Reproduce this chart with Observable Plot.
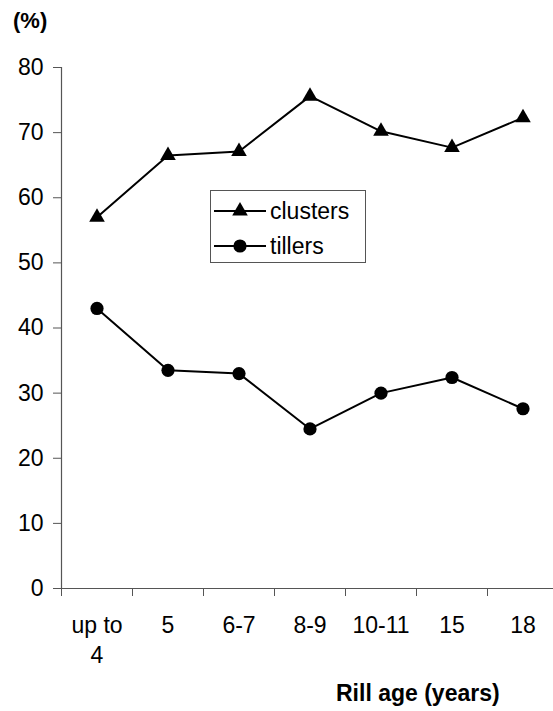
<!DOCTYPE html>
<html>
<head>
<meta charset="utf-8">
<script src="https://cdn.jsdelivr.net/npm/d3@7"></script>
<script src="https://cdn.jsdelivr.net/npm/@observablehq/plot@0.6"></script>
<style>
  html, body { margin: 0; padding: 0; background: #fff; }
  #wrap { position: relative; width: 553px; height: 711px; overflow: hidden; font-family: "Liberation Sans", Arial, Helvetica, sans-serif; color: #000; }
  #wrap > svg { position: absolute; left: 0; top: 0; }
  .lbl { position: absolute; font-weight: bold; line-height: 1; white-space: nowrap; }
  #legend { position: absolute; left: 210px; top: 190px; width: 154px; height: 71px; border: 1px solid #555; background: #fff; }
  .row { position: absolute; left: 0; height: 30px; display: flex; align-items: center; font-size: 23px; }
  .row svg { display: block; margin-left: 3px; margin-right: 4px; }
</style>
</head>
<body>
<div id="wrap"></div>
<script>
const categories = ["up to\n4", "5", "6-7", "8-9", "10-11", "15", "18"];
const clusters = [57.0, 66.5, 67.1, 75.6, 70.2, 67.7, 72.3];
const tillers = [43.0, 33.5, 33.0, 24.5, 30.0, 32.4, 27.6];
const yTicks = [0, 10, 20, 30, 40, 50, 60, 70, 80];

const rows = [
  ...clusters.map((v, i) => ({i, value: v, series: "clusters"})),
  ...tillers.map((v, i) => ({i, value: v, series: "tillers"}))
];
const idx = categories.map((_, i) => i);
const bounds = categories.map((_, i) => i - 0.5).concat([categories.length - 0.5]);

const chart = Plot.plot({
  width: 553,
  height: 711,
  marginLeft: 61,
  marginTop: 67,
  marginBottom: 123,
  marginRight: -5,
  style: {fontFamily: '"Liberation Sans", Arial, Helvetica, sans-serif', fontSize: "23px", color: "#000", background: "transparent"},
  x: {type: "linear", domain: [-0.5, categories.length - 0.5]},
  y: {domain: [0, 80]},
  marks: [
    Plot.ruleX([-0.5], {stroke: "#555", strokeWidth: 1.2}),
    Plot.ruleY([0], {stroke: "#555", strokeWidth: 1.2}),
    Plot.axisY({ticks: yTicks, tickSize: 8, tickPadding: 10, stroke: "#555", fill: "#000", fontSize: 23, label: null}),
    Plot.axisX({ticks: bounds, tickSize: 8, tickFormat: () => "", stroke: "#555", label: null}),
    Plot.axisX({ticks: idx, tickSize: 0, tickPadding: 23, tickFormat: i => categories[i], fill: "#000", fontSize: 23, lineHeight: 1.3, label: null}),
    Plot.line(rows, {x: "i", y: "value", z: "series", stroke: "#000", strokeWidth: 2}),
    Plot.dot(rows.filter(d => d.series === "clusters"), {x: "i", y: "value", symbol: "triangle", fill: "#000", stroke: "none", r: 5.8}),
    Plot.dot(rows.filter(d => d.series === "tillers"), {x: "i", y: "value", symbol: "circle", fill: "#000", stroke: "none", r: 6.6})
  ]
});

const wrap = document.getElementById("wrap");
wrap.appendChild(chart);

const yl = document.createElement("div");
yl.className = "lbl";
yl.style.cssText = "left:13px;top:10px;font-size:22px;";
yl.textContent = "(%)";
wrap.appendChild(yl);

const xl = document.createElement("div");
xl.className = "lbl";
xl.style.cssText = "left:336px;top:682px;font-size:23px;";
xl.textContent = "Rill age (years)";
wrap.appendChild(xl);

const legend = document.createElement("div");
legend.id = "legend";
const series = [
  {name: "clusters", symbol: "triangle", r: 5.8, top: 5},
  {name: "tillers", symbol: "circle", r: 6.6, top: 40}
];
for (const s of series) {
  const row = document.createElement("div");
  row.className = "row";
  row.style.top = s.top + "px";
  const size = Math.PI * s.r * s.r;
  const sym = s.symbol === "triangle" ? d3.symbolTriangle : d3.symbolCircle;
  const path = d3.symbol(sym, size)();
  row.innerHTML = `<svg width="52" height="30"><line x1="0" x2="52" y1="15" y2="15" stroke="#000" stroke-width="2"/><path transform="translate(26,15)" d="${path}" fill="#000"/></svg><span>${s.name}</span>`;
  legend.appendChild(row);
}
wrap.appendChild(legend);
</script>
</body>
</html>
